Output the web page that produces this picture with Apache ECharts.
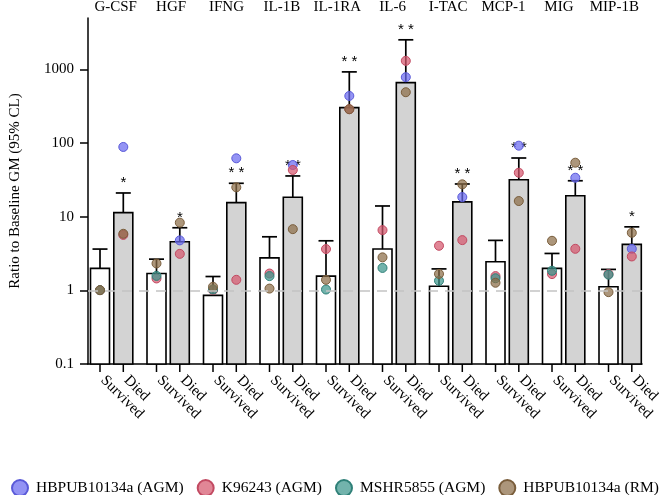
<!DOCTYPE html>
<html>
<head>
<meta charset="utf-8">
<script src="https://cdn.jsdelivr.net/npm/echarts@6/dist/echarts.min.js"></script>
<style>html,body{margin:0;padding:0;background:#fff}#c{width:660px;height:495px}</style>
</head>
<body>
<div id="c"></div>
<script>
// ---- data ----
const categories = ['G-CSF','HGF','IFNG','IL-1B','IL-1RA','IL-6','I-TAC','MCP-1','MIG','MIP-1B'];
const groupLabels = ['Survived','Died'];
const yTicks = [0.1, 1, 10, 100, 1000];
const survivedGM    = [1.97, 1.68, 0.85, 2.74, 1.55, 3.6, 1.13, 2.42, 1.97, 1.11];
const survivedUpper = [3.6, 2.63, 1.53, 5.28, 4.66, 13.8, 1.94, 4.72, 3.14, 1.91];
const diedGM        = [11.2, 4.52, 15.3, 18.1, 296, 647, 15.7, 31.3, 19.0, 4.17];
const diedUpper     = [20.7, 7.0, 28, 35.2, 903, 2455, 27.4, 61.6, 30.3, 7.2];
const diedSig       = ['*','*','**','**','**','**','**','**','**','*'];
// individual strains (null = not present)
const hbpubAGM_surv = [null,null,null,null,null,null,null,null,null,null];
const hbpubAGM_died = [86.9, 4.72, 61, 49.5, 427, 766, 18.2, 90.5, 33.3, 3.63];
const k96243_surv   = [1.0, 1.44, 1.0, 1.68, 3.6, 6.5, 3.99, 1.55, 1.65, 1.65];
const k96243_died   = [5.6, 3.1, 1.38, 42.4, 282, 1274, 4.76, 38.9, 3.63, 2.86];
const mshr_surv     = [1.0, 1.56, 1.02, 1.55, 1.02, 2.0, 1.34, 1.45, 1.83, 1.62];
const mshr_died     = [null,null,null,null,null,null,null,null,null,null];
const hbpubRM_surv  = [1.0, 2.3, 1.11, 1.05, 1.38, 2.78, 1.66, 1.26, 4.66, 0.94];
const hbpubRM_died  = [5.8, 8.2, 24.7, 6.7, 282, 479, 27.1, 16.1, 53.2, 5.98];

// ---- styling / layout ----
const SERIF = 'Liberation Serif';
const OFF = 11.65;   // half distance between Survived/Died bar centres (px)
const BAR_W = 19;
const Y_MIN = 0.1, Y_MAX = 5000;
const strains = [
  {name:'HBPUB10134a (AGM)', surv:hbpubAGM_surv, died:hbpubAGM_died, fill:'rgba(105,105,240,0.72)', border:'#5a5ad8'},
  {name:'K96243 (AGM)',      surv:k96243_surv,   died:k96243_died,   fill:'rgba(214,88,110,0.72)',  border:'#c24a62'},
  {name:'MSHR5855 (AGM)',    surv:mshr_surv,     died:mshr_died,     fill:'rgba(60,150,140,0.72)',  border:'#2f8078'},
  {name:'HBPUB10134a (RM)',  surv:hbpubRM_surv,  died:hbpubRM_died,  fill:'rgba(140,110,72,0.72)',  border:'#7a5e3c'}
];

function pts(arr, off) {
  const out = [];
  arr.forEach((v, i) => { if (v != null) out.push({value:[i, v], symbolOffset:[off, 0]}); });
  return out;
}

// bar (from axis minimum) + error bar + optional significance mark
const barRender = (off, fill, withSig) => function (params, api) {
  const i = api.value(0);
  const pb = api.coord([i, Y_MIN]);
  const p0 = api.coord([i, api.value(1)]);
  const p1 = api.coord([i, api.value(2)]);
  const x = p0[0] + off;
  const ls = {stroke:'#000', lineWidth:1.7};
  const children = [
    {type:'rect', shape:{x:x - BAR_W/2, y:p0[1], width:BAR_W, height:pb[1]-p0[1]},
     style:{fill:fill, stroke:'#000', lineWidth:1.6}},
    {type:'line', shape:{x1:x, y1:p0[1], x2:x, y2:p1[1]}, style:ls},
    {type:'line', shape:{x1:x-7.5, y1:p1[1], x2:x+7.5, y2:p1[1]}, style:ls}
  ];
  if (withSig) {
    children.push({type:'text', x:x, y:p1[1]-10,
      style:{text:diedSig[i].split('').join(' '), font:'15px "Liberation Sans"', fill:'#000', align:'center', verticalAlign:'middle'}});
  }
  return {type:'group', children};
};

const tickRender = function (params, api) {
  const i = api.value(0);
  const c = api.coord([i, Y_MIN]);
  const children = [];
  [-OFF, OFF].forEach((o, k) => {
    const x = c[0] + o;
    children.push({type:'line', shape:{x1:x, y1:c[1], x2:x, y2:c[1]+8}, style:{stroke:'#000', lineWidth:1.5}});
    children.push({type:'text', x:x+3, y:c[1]+14, rotation:-Math.PI/4,
      style:{text:groupLabels[k], font:'15px "' + SERIF + '"', fill:'#000', align:'left', verticalAlign:'middle'}});
  });
  return {type:'group', children};
};

const series = [
  {type:'line', xAxisIndex:0, yAxisIndex:0, data:[], z:1, silent:true,
   markLine:{silent:true, symbol:'none', label:{show:false}, animation:false,
     lineStyle:{color:'#c4c4c4', type:[10,7], width:1.6}, data:[{yAxis:1}]}},
  {name:'Survived', type:'custom', xAxisIndex:2, yAxisIndex:1, z:2, renderItem:barRender(-OFF, '#ffffff', false),
   data:survivedGM.map((v,i)=>[i, v, survivedUpper[i]]), encode:{x:0, y:[1,2]}},
  {name:'Died', type:'custom', xAxisIndex:2, yAxisIndex:1, z:2, renderItem:barRender(OFF, '#d3d3d3', true),
   data:diedGM.map((v,i)=>[i, v, diedUpper[i]]), encode:{x:0, y:[1,2]}},
  {type:'custom', xAxisIndex:2, yAxisIndex:1, z:3, renderItem:tickRender, clip:false,
   data:categories.map((c,i)=>[i, Y_MIN]), encode:{x:0, y:1}}
];
strains.forEach(s => {
  series.push({name:s.name, type:'scatter', xAxisIndex:2, yAxisIndex:1, z:4, symbolSize:9,
    itemStyle:{color:s.fill, borderColor:s.border, borderWidth:1, opacity:1},
    data: pts(s.surv, -OFF).concat(pts(s.died, OFF))});
});

const chart = echarts.init(document.getElementById('c'), null, {renderer:'canvas'});
chart.setOption({
  animation:false,
  backgroundColor:'#fff',
  textStyle:{fontFamily:SERIF},
  grid:[
    {left:79, right:18, top:17, bottom:131},
    {left:83.4, right:11.6, top:17, bottom:131}
  ],
  legend:{
    data:strains.map(s=>s.name), left:11, top:479, width:900, padding:0, icon:'circle',
    itemWidth:16, itemHeight:16, itemGap:13,
    textStyle:{fontFamily:SERIF, fontSize:15.5, color:'#000', padding:[0,0,0,3]}
  },
  xAxis:[
    {gridIndex:0, type:'category', data:categories, position:'bottom',
     axisLine:{lineStyle:{color:'#000', width:1.5}}, axisTick:{show:false}, axisLabel:{show:false}},
    {gridIndex:0, type:'category', data:categories, position:'top',
     axisLine:{show:false}, axisTick:{show:false},
     axisLabel:{interval:0, fontFamily:SERIF, fontSize:15, color:'#000', margin:3}},
    {gridIndex:1, type:'category', data:categories, show:false}
  ],
  yAxis:[
    {gridIndex:0, type:'log', logBase:10, min:Y_MIN, max:Y_MAX,
     name:'Ratio to Baseline GM (95% CL)', nameLocation:'middle', nameGap:65,
     nameTextStyle:{fontFamily:SERIF, fontSize:15, color:'#000'},
     axisLine:{show:true, lineStyle:{color:'#000', width:1.5}},
     axisTick:{show:true, length:8, lineStyle:{color:'#000', width:1.5}, customValues:yTicks},
     axisLabel:{fontFamily:SERIF, fontSize:15, color:'#000', margin:14, customValues:yTicks,
       formatter:v => String(+v.toPrecision(6))},
     splitLine:{show:false}},
    {gridIndex:1, type:'log', logBase:10, min:Y_MIN, max:Y_MAX, show:false, splitLine:{show:false}}
  ],
  series
});
</script>
</body>
</html>
